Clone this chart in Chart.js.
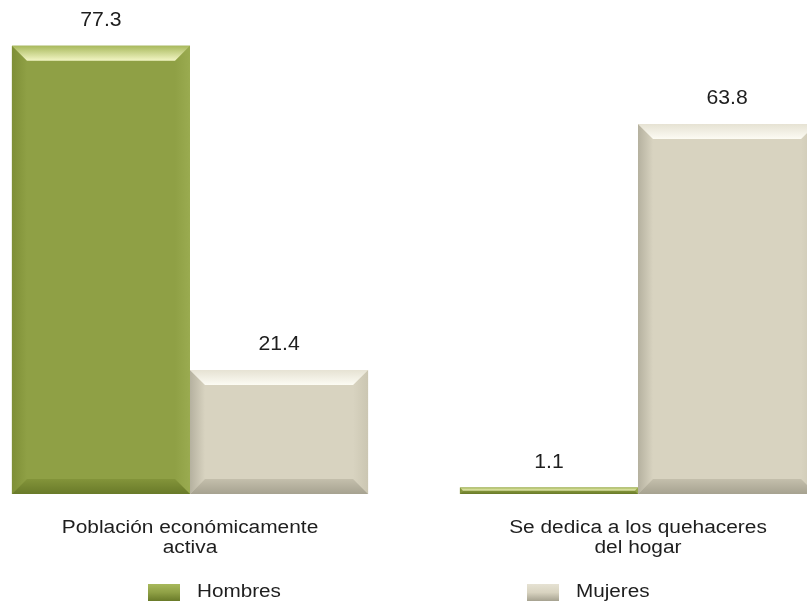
<!DOCTYPE html>
<html>
<head>
<meta charset="utf-8">
<script src="https://cdn.jsdelivr.net/npm/chart.js@4.4.0/dist/chart.umd.min.js"></script>
<style>
  html, body { margin: 0; padding: 0; background: #fff; overflow: hidden; }
  #wrap { position: relative; width: 807px; height: 601px; overflow: hidden; }
  #c { position: absolute; left: -34px; top: 0; }
</style>
</head>
<body>
<div id="wrap"><canvas id="c" width="896" height="601"></canvas></div>
<script>
// Hombres vs Mujeres, two groups of beveled bars

const categories = [
  ['Población económicamente', 'activa'],
  ['Se dedica a los quehaceres', 'del hogar'],
];
const seriesNames = ['Hombres', 'Mujeres'];
const hombres = [77.3, 1.1];
const mujeres = [21.4, 63.8];

const FONT = '"Liberation Sans", Arial, sans-serif';
const TEXT = '#1e1e1e';

// bevel palettes per series
const palettes = [
  { base: '#8fa045', topOuter: '#a8b95c', topInner: '#f2f5c4', left: '#7e8f36', right: '#9aab50', bottomOuter: '#697a29', bottomInner: '#83943a' },
  { base: '#d8d3c0', topOuter: '#e6e2d3', topInner: '#fcfbf3', left: '#b5b19f', right: '#cbc6b2', bottomOuter: '#a6a290', bottomInner: '#c4bfac' },
];

// text in the source is a bit wider than Arial, so stretch it horizontally
function stretchText(ctx, text, x, y, sx, align) {
  ctx.save();
  ctx.translate(x, y);
  ctx.scale(sx, 1);
  ctx.textAlign = align;
  ctx.textBaseline = 'middle';
  ctx.fillText(text, 0, 0);
  ctx.restore();
}

const bevelPlugin = {
  id: 'bevel',
  afterDatasetsDraw(chart) {
    const ctx = chart.ctx;
    chart.data.datasets.forEach((ds, i) => {
      const pal = palettes[i];
      chart.getDatasetMeta(i).data.forEach((bar, j) => {
        const { x, y, base, width } = bar.getProps(['x', 'y', 'base', 'width'], true);
        const l = x - width / 2, r = x + width / 2;
        const t = Math.min(y, base), b = Math.max(y, base);
        const s = Math.min(15, (b - t) / 2, width / 2);
        ctx.save();
        let g;
        // left
        g = ctx.createLinearGradient(l, 0, l + s, 0);
        g.addColorStop(0, pal.left); g.addColorStop(1, pal.base);
        ctx.fillStyle = g;
        ctx.beginPath(); ctx.moveTo(l, t); ctx.lineTo(l + s, t + s); ctx.lineTo(l + s, b - s); ctx.lineTo(l, b); ctx.closePath(); ctx.fill();
        // right
        g = ctx.createLinearGradient(r, 0, r - s, 0);
        g.addColorStop(0, pal.right); g.addColorStop(1, pal.base);
        ctx.fillStyle = g;
        ctx.beginPath(); ctx.moveTo(r, t); ctx.lineTo(r - s, t + s); ctx.lineTo(r - s, b - s); ctx.lineTo(r, b); ctx.closePath(); ctx.fill();
        // top
        g = ctx.createLinearGradient(0, t, 0, t + s);
        g.addColorStop(0, pal.topOuter); g.addColorStop(1, pal.topInner);
        ctx.fillStyle = g;
        ctx.beginPath(); ctx.moveTo(l, t); ctx.lineTo(r, t); ctx.lineTo(r - s, t + s); ctx.lineTo(l + s, t + s); ctx.closePath(); ctx.fill();
        // bottom
        g = ctx.createLinearGradient(0, b, 0, b - s);
        g.addColorStop(0, pal.bottomOuter); g.addColorStop(1, pal.bottomInner);
        ctx.fillStyle = g;
        ctx.beginPath(); ctx.moveTo(l, b); ctx.lineTo(r, b); ctx.lineTo(r - s, b - s); ctx.lineTo(l + s, b - s); ctx.closePath(); ctx.fill();

        // value label
        ctx.fillStyle = TEXT;
        ctx.font = '20px ' + FONT;
        stretchText(ctx, ds.data[j].toFixed(1), x, t - 25, 1.06, 'center');
        ctx.restore();
      });
    });
  },
  afterDraw(chart) {
    const ctx = chart.ctx;
    const xs = chart.scales.x;
    const bottom = chart.chartArea.bottom;
    ctx.save();
    ctx.fillStyle = TEXT;
    ctx.font = '18px ' + FONT;
    // category labels under each group
    chart.data.labels.forEach((lines, i) => {
      const cx = xs.getPixelForValue(i);
      lines.forEach((line, k) => {
        stretchText(ctx, line, cx, bottom + 34 + k * 20, 1.16, 'center');
      });
    });
    // legend along the bottom edge
    const boxX = [182, 561];
    chart.data.datasets.forEach((ds, i) => {
      const pal = palettes[i];
      const g = ctx.createLinearGradient(0, 584, 0, 601);
      g.addColorStop(0, pal.topOuter); g.addColorStop(0.5, pal.base); g.addColorStop(1, pal.bottomOuter);
      ctx.fillStyle = g;
      ctx.fillRect(boxX[i], 584, 32, 17);
      ctx.fillStyle = TEXT;
      stretchText(ctx, ds.label, boxX[i] + 49, 592, 1.15, 'left');
    });
    ctx.restore();
  },
};

new Chart(document.getElementById('c'), {
  type: 'bar',
  data: {
    labels: categories,
    datasets: [
      { label: seriesNames[0], data: hombres, backgroundColor: palettes[0].base },
      { label: seriesNames[1], data: mujeres, backgroundColor: palettes[1].base },
    ],
  },
  options: {
    responsive: false,
    animation: false,
    devicePixelRatio: 1,
    layout: { padding: { top: 30, bottom: 107, left: 0, right: 0 } },
    datasets: {
      bar: { borderWidth: 0, categoryPercentage: 0.795, barPercentage: 1 },
    },
    scales: {
      x: { display: false },
      y: { display: false, min: 0, max: 80 },
    },
    plugins: {
      legend: { display: false },
      tooltip: { enabled: false },
    },
  },
  plugins: [bevelPlugin],
});
</script>
</body>
</html>
